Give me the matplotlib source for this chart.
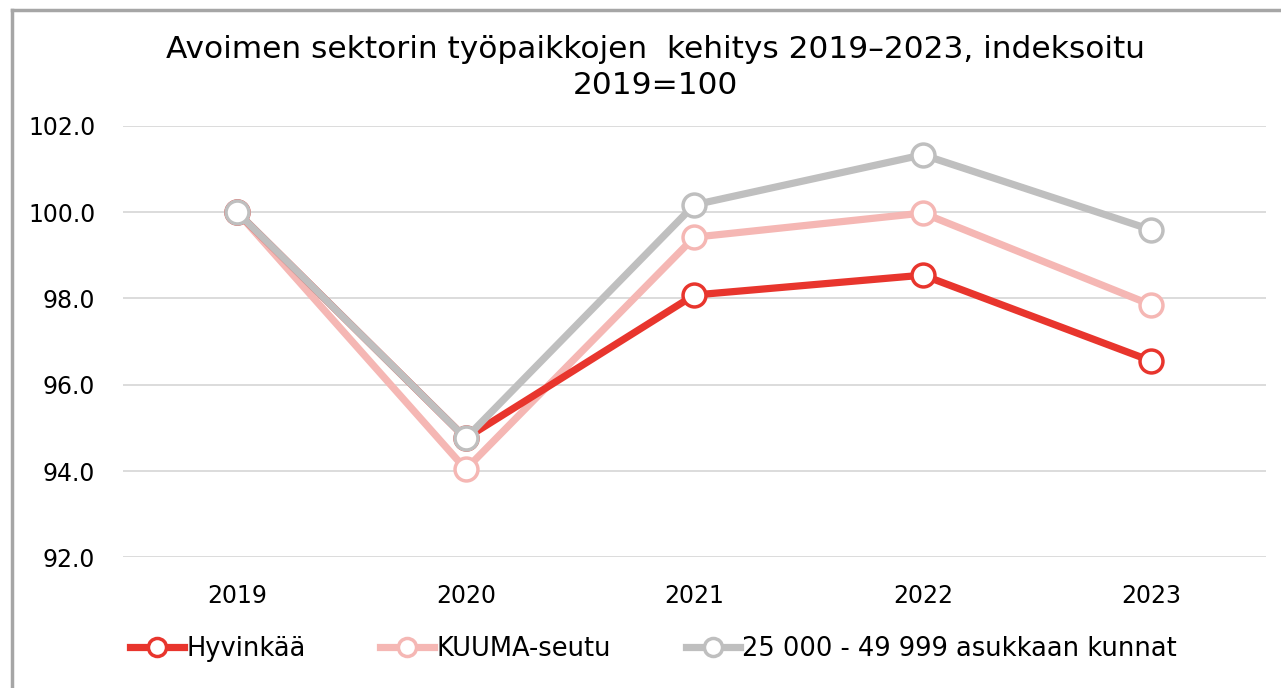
import matplotlib
matplotlib.use('Agg')
import matplotlib.pyplot as plt
from matplotlib.lines import Line2D

plt.rcParams['font.family'] = ['DejaVu Sans']

years = ['2019', '2020', '2021', '2022', '2023']
hyvinkaa = [100.0, 94.76, 98.08, 98.54, 96.55]
kuuma = [100.0, 94.04, 99.42, 99.98, 97.85]
kunnat = [100.0, 94.76, 100.17, 101.33, 99.59]

names = ['Hyvinkää', 'KUUMA-seutu', '25 000 - 49 999 asukkaan kunnat']
colors = ['#E8352D', '#F5B7B4', '#BFBFBF']
series = [hyvinkaa, kuuma, kunnat]

fig = plt.figure(figsize=(12.81, 6.88), dpi=100)
ax = fig.add_axes([0.096, 0.190, 0.892, 0.627])

x = list(range(len(years)))
# draw grey last so it sits on top, like the original
for vals, c, z in zip(series, colors, [3, 2, 4]):
    ax.plot(x, vals, color=c, lw=5.2, marker='o', ms=16.5, mfc='white',
            mec=c, mew=2.5, zorder=z, solid_capstyle='round')

ax.set_xlim(-0.5, 4.5)
ax.set_ylim(92, 102)
ax.set_yticks([92, 94, 96, 98, 100, 102])
ax.set_yticklabels(['%.1f' % v for v in [92, 94, 96, 98, 100, 102]])
ax.set_xticks(x)
ax.set_xticklabels(years)
ax.tick_params(length=0, labelsize=17, colors='#000000', pad=19)
ax.tick_params(axis='y', pad=20)
ax.grid(axis='y', color='#D9D9D9', lw=1.3)
ax.set_axisbelow(True)
for s in ax.spines.values():
    s.set_visible(False)

fig.text(0.512, 0.902, 'Avoimen sektorin työpaikkojen  kehitys 2019–2023, indeksoitu\n2019=100',
         ha='center', va='center', fontsize=22.5, linespacing=1.33)

handles = [Line2D([0], [0], color=c, lw=5.2, marker='o', ms=13, mfc='white', mec=c, mew=2.5)
           for c in colors]
fig.legend(handles, names, loc='center', bbox_to_anchor=(0.51, 0.056), ncol=3,
           frameon=False, fontsize=18.5, handlelength=2.1, handletextpad=0.1,
           columnspacing=2.9)

# outer chart frame
fig.add_artist(Line2D([0.0094, 0.0094], [0, 0.985], color='#A6A6A6', lw=2.5, transform=fig.transFigure))
fig.add_artist(Line2D([0.0094, 1], [0.985, 0.985], color='#A6A6A6', lw=2.5, transform=fig.transFigure))

fig.savefig('out.png', dpi=100)
